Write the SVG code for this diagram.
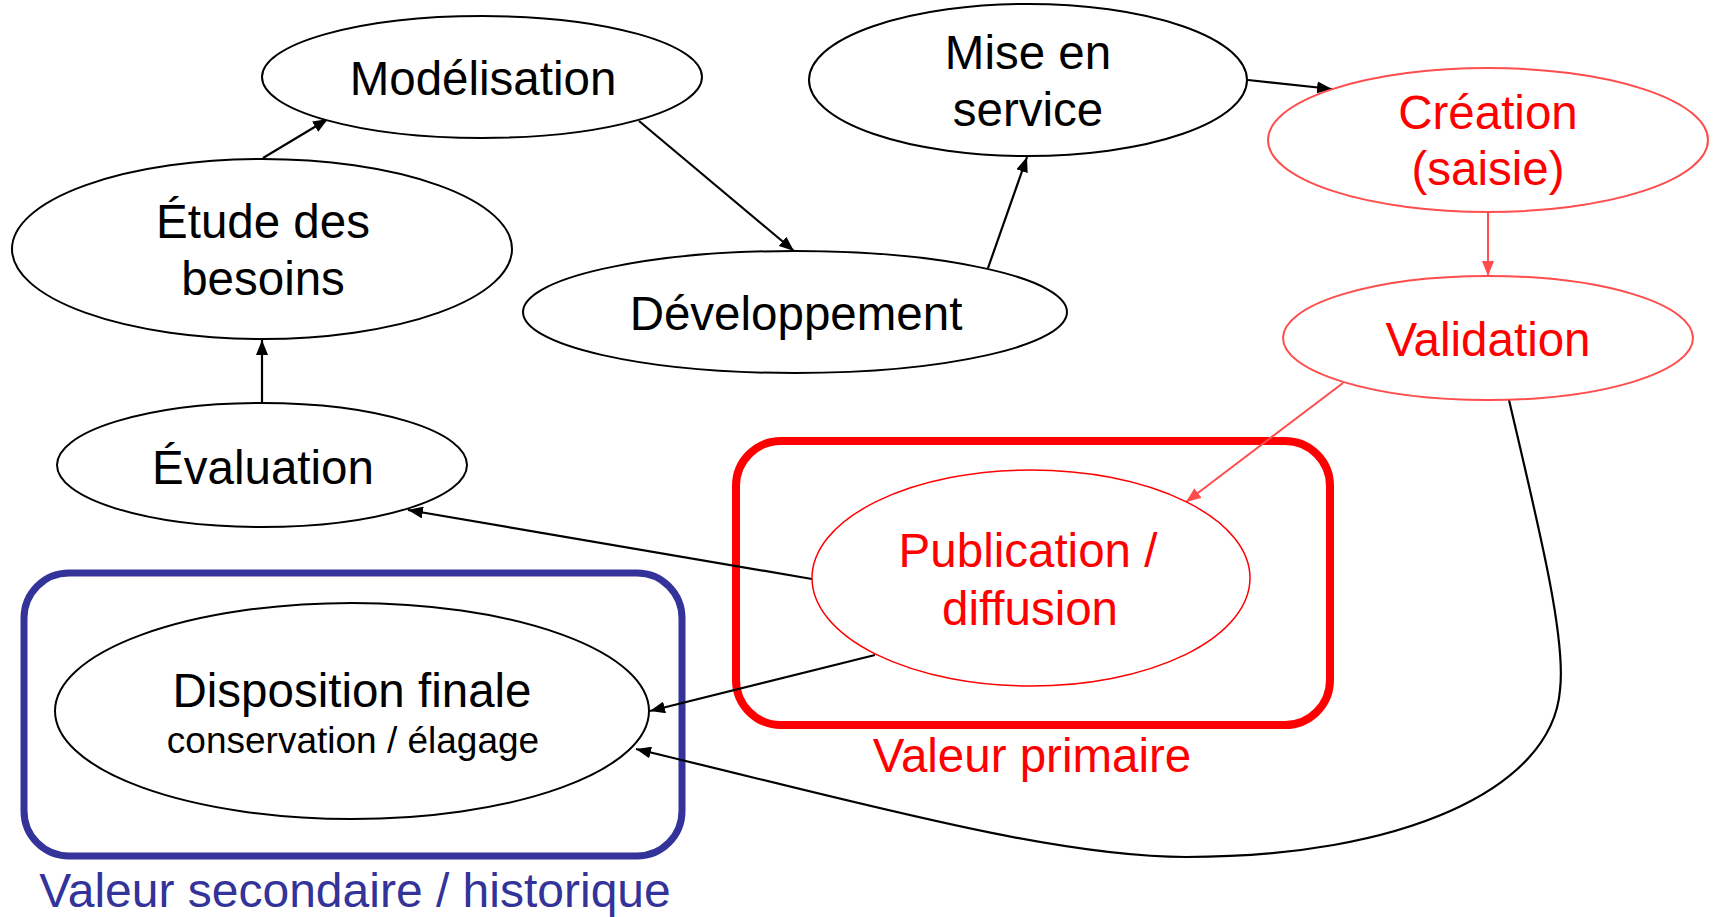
<svg xmlns="http://www.w3.org/2000/svg" width="1715" height="917" viewBox="0 0 1715 917">
<style>
text{font-family:"Liberation Sans",Arial,sans-serif;text-anchor:middle}
.t{font-size:47.5px;fill:#000}
.tr{font-size:47.5px;fill:#FF0000}
.ts{font-size:37px;fill:#000}
.n{fill:#fff;stroke:#000;stroke-width:2}
.nr{fill:#fff;stroke:#FF4D4D;stroke-width:2}
.np{fill:#fff;stroke:#FF0000;stroke-width:1.5}
.c{fill:none;stroke:#000;stroke-width:2.2}
.cr{fill:none;stroke:#FF4D4D;stroke-width:2}
</style>
<defs>
<marker id="ab" markerUnits="userSpaceOnUse" markerWidth="16" markerHeight="12" refX="15" refY="6" orient="auto"><path d="M0,0 L15,6 L0,12 z" fill="#000"/></marker>
<marker id="ar" markerUnits="userSpaceOnUse" markerWidth="16" markerHeight="12" refX="15" refY="6" orient="auto"><path d="M0,0 L15,6 L0,12 z" fill="#FF4D4D"/></marker>
</defs>
<g id="groups">
<rect x="24" y="573" width="658" height="283" rx="45" ry="45" fill="none" stroke="#333399" stroke-width="7"/>
<text x="355" y="907" style="font-size:48px;fill:#333399">Valeur secondaire / historique</text>
<rect x="736" y="441" width="594" height="284" rx="45" ry="45" fill="none" stroke="#FF0000" stroke-width="8"/>
<text x="1032" y="772" class="tr">Valeur primaire</text>
</g>
<g id="connectors">
<line x1="263" y1="158" x2="328" y2="119" class="c" marker-end="url(#ab)"/>
<line x1="639" y1="121" x2="794" y2="251" class="c" marker-end="url(#ab)"/>
<line x1="262" y1="403" x2="262" y2="340" class="c" marker-end="url(#ab)"/>
<line x1="988" y1="268" x2="1027" y2="157" class="c" marker-end="url(#ab)"/>
<line x1="1248" y1="80" x2="1332" y2="89" class="c" marker-end="url(#ab)"/>
<line x1="1488" y1="211" x2="1488" y2="276" class="cr" marker-end="url(#ar)"/>
<line x1="1343" y1="383" x2="1186" y2="502" class="cr" marker-end="url(#ar)"/>
<line x1="812" y1="579" x2="408" y2="510" class="c" marker-end="url(#ab)"/>
<line x1="875" y1="655" x2="650" y2="711" class="c" marker-end="url(#ab)"/>
<path d="M1509,400 C1542,540 1566,640 1560,690 C1552,790 1400,857 1186,857 C1050,857 850,800 636,749" class="c" marker-end="url(#ab)"/>
</g>
<g id="modelisation">
<ellipse cx="482" cy="77" rx="220" ry="61" class="n"/>
<text x="483" y="95" class="t">Modélisation</text>
</g>
<g id="etude">
<ellipse cx="262" cy="249" rx="250" ry="90" class="n"/>
<text x="263" y="238" class="t">Étude des</text>
<text x="263" y="295" class="t">besoins</text>
</g>
<g id="developpement">
<ellipse cx="795" cy="312" rx="272" ry="61" class="n"/>
<text x="796" y="330" class="t">Développement</text>
</g>
<g id="mise-en-service">
<ellipse cx="1028" cy="80" rx="219" ry="76" class="n"/>
<text x="1028" y="69" class="t">Mise en</text>
<text x="1028" y="126" class="t">service</text>
</g>
<g id="creation">
<ellipse cx="1488" cy="140" rx="220" ry="72" class="nr"/>
<text x="1488" y="129" class="tr">Création</text>
<text x="1488" y="185" class="tr">(saisie)</text>
</g>
<g id="validation">
<ellipse cx="1488" cy="338" rx="205" ry="62" class="nr"/>
<text x="1488" y="356" class="tr">Validation</text>
</g>
<g id="evaluation">
<ellipse cx="262" cy="465" rx="205" ry="62" class="n"/>
<text x="263" y="484" class="t">Évaluation</text>
</g>
<g id="publication">
<ellipse cx="1031" cy="578" rx="219" ry="108" class="np"/>
<text x="1028" y="567" class="tr">Publication /</text>
<text x="1030" y="625" class="tr">diffusion</text>
</g>
<g id="disposition">
<ellipse cx="352" cy="711" rx="297" ry="108" class="n"/>
<text x="352" y="707" class="t">Disposition finale</text>
<text x="353" y="753" class="ts">conservation / élagage</text>
</g>
</svg>
